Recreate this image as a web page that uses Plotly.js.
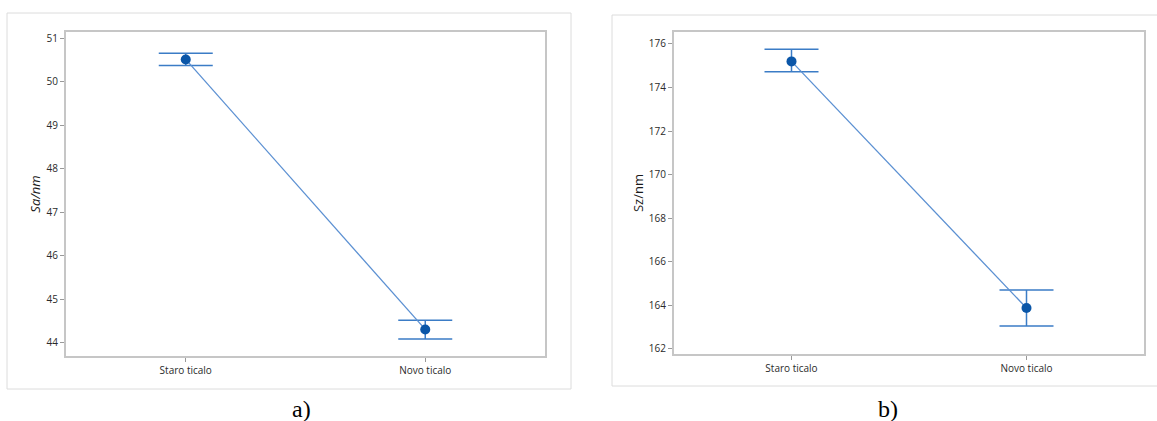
<!DOCTYPE html>
<html>
<head>
<meta charset="utf-8">
<script src="https://cdn.plot.ly/plotly-3.0.1.min.js"></script>
<style>html,body{margin:0;padding:0;background:#fff;}#chart{width:1157px;height:421px;}</style>
</head>
<body>
<div id="chart"></div>
<script>
// Data
const categories = ["Staro ticalo", "Novo ticalo"];
const saMean = [50.51, 44.31];
const saLower = [50.37, 44.09];
const saUpper = [50.65, 44.52];
const szMean = [175.2, 163.88];
const szLower = [174.72, 163.05];
const szUpper = [175.76, 164.71];
const saTicks = [44, 45, 46, 47, 48, 49, 50, 51];
const szTicks = [162, 164, 166, 168, 170, 172, 174, 176];
const panelLabels = ["a)", "b)"];

const W = 1157, H = 421;
const px = v => v / W;
const py = v => 1 - v / H;

const lineCol = "#5b90d2";
const errCol = "#3b7cc6";
const markCol = "#0a56a8";

function trace(means, lo, hi, xa, ya) {
  return {
    type: "scatter", mode: "lines+markers",
    x: categories, y: means, xaxis: xa, yaxis: ya,
    line: {color: lineCol, width: 1.3},
    marker: {color: markCol, size: 10},
    error_y: {type: "data", symmetric: false,
      array: hi.map((h, i) => h - means[i]),
      arrayminus: lo.map((l, i) => means[i] - l),
      color: errCol, thickness: 1.5, width: 27},
    showlegend: false, hoverinfo: "skip"
  };
}

const tickFont = {family: "Open Sans, Noto Sans, sans-serif", size: 10, color: "#2a2a2a"};
const titleFont = {family: "Open Sans, Noto Sans, sans-serif", size: 13, color: "#1a1a1a"};
const axBase = {
  showline: true, mirror: true, linecolor: "#c6c6c6", linewidth: 2,
  showgrid: false, zeroline: false, ticks: "outside", ticklen: 4,
  tickcolor: "#999", tickwidth: 1, tickfont: tickFont
};

const layout = {
  width: W, height: H,
  margin: {l: 0, r: 0, t: 0, b: 0},
  paper_bgcolor: "#fff", plot_bgcolor: "#fff",
  xaxis: Object.assign({}, axBase, {domain: [px(66), px(545)], anchor: "y", type: "category", range: [-0.5, 1.5]}),
  yaxis: Object.assign({}, axBase, {domain: [py(356), py(32)], anchor: "x", range: [43.7, 51.14],
    tickvals: saTicks, ticktext: saTicks.map(String),
    title: {text: "<i>Sa/nm</i>", font: titleFont, standoff: 3}}),
  xaxis2: Object.assign({}, axBase, {domain: [px(674), px(1144)], anchor: "y2", type: "category", range: [-0.5, 1.5]}),
  yaxis2: Object.assign({}, axBase, {domain: [py(354), py(32)], anchor: "x2", range: [161.77, 176.55],
    tickvals: szTicks, ticktext: szTicks.map(String),
    title: {text: "Sz/nm", font: titleFont, standoff: 2}}),
  shapes: [
    {type: "rect", xref: "paper", yref: "paper", x0: px(7), x1: px(571), y0: py(389), y1: py(13),
     line: {color: "#dcdcdc", width: 1}, layer: "below"},
    {type: "rect", xref: "paper", yref: "paper", x0: px(612), x1: px(1160), y0: py(386), y1: py(15),
     line: {color: "#dcdcdc", width: 1}, layer: "below"}
  ],
  annotations: [
    {text: panelLabels[0], xref: "paper", yref: "paper", x: px(290), y: py(409), yanchor: "middle", showarrow: false,
     font: {family: "Liberation Serif, Times New Roman, serif", size: 24, color: "#000"}},
    {text: panelLabels[1], xref: "paper", yref: "paper", x: px(900), y: py(409), yanchor: "middle", showarrow: false,
     font: {family: "Liberation Serif, Times New Roman, serif", size: 24, color: "#000"}}
  ]
};

Plotly.newPlot("chart", [
  trace(saMean, saLower, saUpper, "x", "y"),
  trace(szMean, szLower, szUpper, "x2", "y2")
], layout, {staticPlot: true, displayModeBar: false});
</script>
</body>
</html>
